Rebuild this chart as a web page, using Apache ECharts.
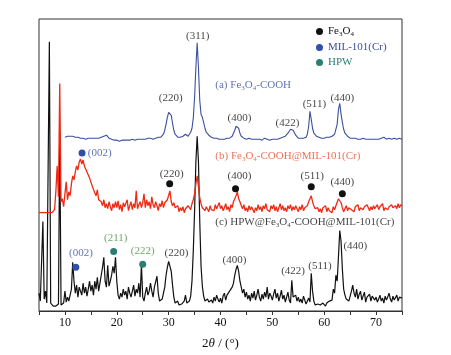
<!DOCTYPE html>
<html>
<head>
<meta charset="utf-8">
<script src="https://cdn.jsdelivr.net/npm/echarts@6/dist/echarts.min.js"></script>
<style>
  html, body { margin: 0; padding: 0; background: #fff; }
  #main { width: 451px; height: 355px; }
</style>
</head>
<body>
<div id="main"></div>
<script>
// XRD patterns, 2theta step 0.25 deg, intensities in arbitrary units (stacked with offsets)
var step = 0.25;

// (a) Fe3O4-COOH, 10 .. 75
var aStart = 10;
var aValues = [
  175,177,176,177,176,177,176,176,175,176,175,175,174,175,174,174,173,174,174,173,
  174,173,174,173,174,173,174,174,175,176,176,178,177,175,174,173,173,172,172,173,
  172,172,171,172,172,171,172,172,172,171,172,172,173,172,172,173,173,172,173,173,
  173,174,173,173,174,173,174,174,173,174,174,174,175,175,175,176,178,182,188,195,
  200,201,197,189,182,178,176,175,175,175,176,176,176,178,177,176,178,180,184,194,
  215,245,270,245,212,198,195,190,184,180,178,177,176,175,175,174,174,174,173,173,
  173,173,174,173,173,174,174,174,175,176,178,182,186,187,184,179,176,175,174,174,
  173,173,174,173,173,172,173,173,173,172,173,173,172,173,174,173,173,173,172,173,
  173,173,173,174,173,173,174,174,175,175,176,177,179,181,183,183,182,180,177,175,
  174,174,174,174,174,175,175,178,186,201,193,184,179,177,176,175,175,174,174,174,
  174,174,175,174,175,175,176,177,178,180,188,203,209,198,190,183,179,177,176,175,
  174,175,174,174,174,173,173,174,173,173,174,173,173,174,173,173,173,174,173,173,
  173,174,173,173,174,174,175,174,173,173,174,173,173,173,174,173,173,173,174,173,
  173
];

// (b) Fe3O4-COOH@MIL-101(Cr), 5 .. 75
var bStart = 5;
var bValues = [
  99,99,99,99,99,99,99,99,99,99,99,99,102,120,146,115,229,110,113,105,
  118,130,112,120,116,128,136,132,140,146,142,150,153,148,152,146,143,140,137,134,
  130,126,124,119,116,122,112,114,110,106,112,104,108,103,110,105,101,108,104,110,
  104,111,102,107,100,109,105,103,112,101,106,110,102,108,104,121,103,107,110,104,
  109,118,104,112,106,110,103,115,107,104,110,106,101,108,105,111,104,109,107,112,
  112,121,110,106,109,104,102,106,100,104,101,105,99,103,101,106,104,102,108,112,
  118,128,136,125,114,108,104,106,101,105,103,100,106,102,104,101,107,103,105,109,
  103,106,101,104,108,102,105,100,107,104,110,108,116,120,113,110,106,103,107,101,
  104,100,106,102,105,103,99,104,101,107,102,105,100,106,103,108,102,104,100,106,
  103,107,101,105,100,104,108,102,106,101,104,100,106,103,107,101,105,102,106,103,
  100,105,102,107,101,104,103,106,110,112,116,110,106,103,101,104,100,103,99,104,
  102,106,100,104,101,103,99,105,102,106,108,113,112,109,104,100,103,106,101,104,
  106,102,104,100,105,103,107,101,104,106,102,105,103,107,104,101,105,102,106,103,
  104,107,102,105,103,108,101,104,106,102,105,103,107,104,102,106,103,108,104,107,
  106
];

// (c) HPW@Fe3O4-COOH@MIL-101(Cr), 5 .. 75
var cStart = 5;
var cValues = [
  18,10,8,90,12,20,8,6,271,8,6,5,6,5,6,7,180,6,5,8,
  20,9,14,10,12,22,49,30,18,26,14,24,20,16,28,18,24,15,22,30,
  20,26,16,30,22,34,20,28,36,44,54,30,24,46,25,30,36,45,38,54,
  30,16,12,18,14,22,16,20,12,24,18,14,20,26,15,22,18,28,14,47,
  14,10,18,24,16,20,28,20,14,24,26,35,18,10,8,12,18,24,36,44,
  50,51,40,26,14,8,7,10,6,8,7,6,10,16,8,6,10,15,30,60,
  100,150,176,150,90,45,25,15,10,8,12,9,7,11,8,14,10,16,12,9,
  13,8,15,18,11,16,14,20,20,24,28,36,42,46,40,30,24,18,22,14,
  19,12,16,10,18,13,20,11,16,22,14,10,17,12,19,14,24,12,18,15,
  11,17,22,13,18,10,15,21,12,16,9,14,19,11,8,31,14,12,16,10,
  14,9,12,8,15,11,7,10,13,9,38,20,10,6,5,7,5,6,5,8,
  6,5,8,6,10,8,11,22,18,36,30,55,81,70,42,22,16,12,14,10,
  12,20,26,18,14,22,12,17,20,11,15,19,9,14,12,17,10,15,13,11,
  14,9,12,16,10,13,8,15,11,14,18,12,9,15,11,13,16,10,14,12,
  13
];

// phase markers [2theta, y]
var fe3o4Dots = [[30.2, 128], [42.9, 123], [57.5, 125], [63.5, 118]];
var milDots = [[13.3, 159], [12.1, 44]];
var hpwDots = [[19.4, 60], [25.0, 47]];

// reflection labels [2theta, y, text]
var blackLabels = [
  [35.6, 277, '(311)'], [30.4, 214, '(220)'], [43.65, 194, '(400)'],
  [52.9, 189, '(422)'], [58.1, 208, '(511)'], [63.5, 214, '(440)'],
  [30.6, 138, '(220)'], [43.65, 136, '(400)'], [57.7, 136, '(511)'], [63.5, 130, '(440)'],
  [31.5, 58, '(220)'], [42.7, 51, '(400)'], [54.0, 40, '(422)'], [59.2, 45, '(511)'], [66.0, 65, '(440)']
];
var blueLabels = [[16.7, 159, '(002)'], [13.1, 58, '(002)']];
var greenLabels = [[19.8, 73, '(211)'], [25.0, 60, '(222)']];

// curve titles [2theta, y, rich text]
var curveTitles = [
  [39.0, 227, '{t|(a) Fe}{s|3}{t|O}{s|4}{t|-COOH}', '#3b4fa0'],
  [39.0, 156, '{t|(b) Fe}{s|3}{t|O}{s|4}{t|-COOH@MIL-101(Cr)}', '#e8502c'],
  [39.0, 89, '{t|(c) HPW@Fe}{s|3}{t|O}{s|4}{t|-COOH@MIL-101(Cr)}', '#111111']
];

var serif = 'Liberation Serif';

function toPairs(start, vals) {
  return vals.map(function (v, i) { return [start + i * step, v]; });
}

function richFor(color) {
  return {
    t: {fontFamily: serif, fontSize: 11, color: color},
    s: {fontFamily: serif, fontSize: 7, color: color, padding: [6, 0, 0, 0]}
  };
}

function textSeries(list, color) {
  return {
    type: 'scatter',
    symbolSize: 0,
    silent: true,
    z: 5,
    label: {
      show: true,
      position: 'inside',
      fontFamily: serif,
      fontSize: 11,
      color: color,
      formatter: function (p) { return p.data[2]; }
    },
    data: list
  };
}

var chart = echarts.init(document.getElementById('main'));

var option = {
  animation: false,
  backgroundColor: '#fff',
  grid: {
    left: 39, right: 49, top: 19, bottom: 42,
    show: true, borderColor: '#333', borderWidth: 1
  },
  legend: {
    orient: 'vertical',
    left: 311,
    top: 21,
    itemWidth: 7,
    itemHeight: 7,
    itemGap: 4,
    icon: 'circle',
    selectedMode: false,
    data: [
      {name: 'Fe3O4', textStyle: {color: '#111'}},
      {name: 'MIL-101(Cr)', textStyle: {color: '#3b4fa0'}},
      {name: 'HPW', textStyle: {color: '#2a7f74'}}
    ],
    textStyle: {
      fontFamily: serif, fontSize: 11,
      rich: {
        t: {fontFamily: serif, fontSize: 11, color: '#111'},
        s: {fontFamily: serif, fontSize: 7, color: '#111', padding: [6, 0, 0, 0]}
      }
    },
    formatter: function (name) {
      if (name === 'Fe3O4') return '{t|Fe}{s|3}{t|O}{s|4}';
      return name;
    }
  },
  xAxis: {
    type: 'value',
    min: 5,
    max: 75,
    interval: 5,
    name: '{n|2}{i|θ}{n| / (°)}',
    nameLocation: 'middle',
    nameGap: 26,
    nameTextStyle: {
      rich: {
        n: {fontFamily: serif, fontSize: 13, color: '#111'},
        i: {fontFamily: serif, fontSize: 13, fontStyle: 'italic', color: '#111'}
      }
    },
    axisLine: {lineStyle: {color: '#333', width: 1}},
    axisTick: {inside: false, length: 4, lineStyle: {color: '#333'}},
    axisLabel: {
      fontFamily: serif, fontSize: 12, color: '#111', margin: 6,
      formatter: function (v) { return (v % 10 === 0 && v > 5 && v < 75) ? String(v) : ''; }
    },
    splitLine: {show: false}
  },
  yAxis: {
    type: 'value',
    min: 0,
    max: 294,
    show: false
  },
  series: [
    {
      name: 'c', type: 'line', showSymbol: false, silent: true,
      lineStyle: {color: '#111', width: 1.2},
      data: toPairs(cStart, cValues)
    },
    {
      name: 'b', type: 'line', showSymbol: false, silent: true,
      lineStyle: {color: '#ee2a14', width: 1.3},
      data: toPairs(bStart, bValues)
    },
    {
      name: 'a', type: 'line', showSymbol: false, silent: true,
      lineStyle: {color: '#3b4fa0', width: 1.1},
      data: toPairs(aStart, aValues)
    },
    {
      name: 'Fe3O4', type: 'scatter', symbolSize: 7, z: 6,
      itemStyle: {color: '#111', opacity: 1}, data: fe3o4Dots
    },
    {
      name: 'MIL-101(Cr)', type: 'scatter', symbolSize: 7, z: 6,
      itemStyle: {color: '#2f4fa8', opacity: 1}, data: milDots
    },
    {
      name: 'HPW', type: 'scatter', symbolSize: 7, z: 6,
      itemStyle: {color: '#2a7f74', opacity: 1}, data: hpwDots
    },
    textSeries(blackLabels, '#111'),
    textSeries(blueLabels, '#3b4fa0'),
    textSeries(greenLabels, '#4f8f45'),
    {
      type: 'scatter',
      symbolSize: 0,
      silent: true,
      z: 5,
      data: curveTitles.map(function (c) {
        return {
          value: [c[0], c[1]],
          label: {
            show: true,
            position: 'right',
            distance: 0,
            formatter: c[2],
            rich: richFor(c[3])
          }
        };
      })
    }
  ]
};

chart.setOption(option);
</script>
</body>
</html>
